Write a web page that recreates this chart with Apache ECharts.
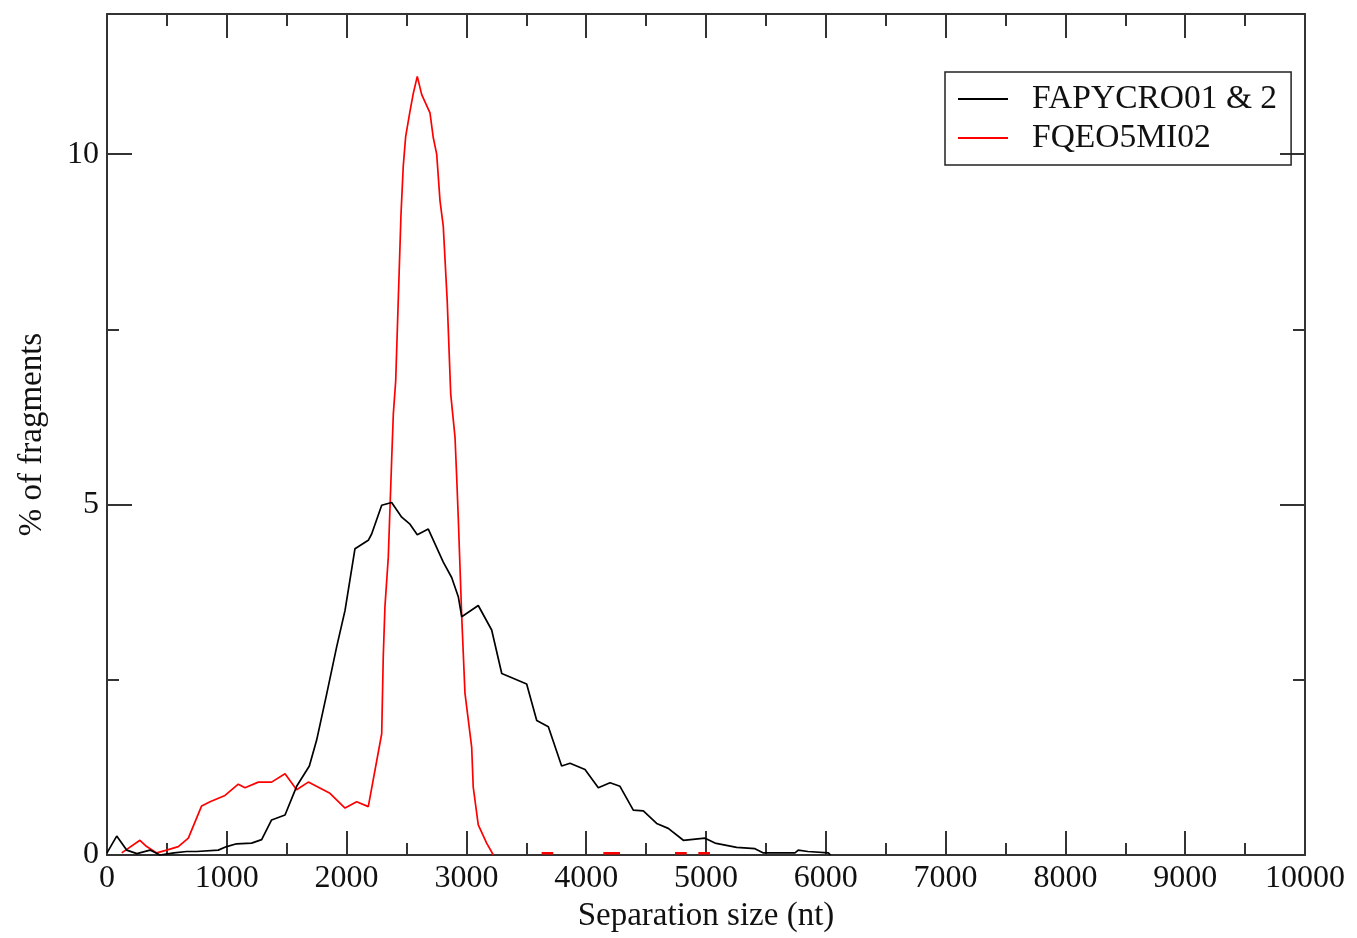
<!DOCTYPE html>
<html>
<head>
<meta charset="utf-8">
<script src="https://cdn.jsdelivr.net/npm/echarts@6/dist/echarts.min.js"></script>
<style>html,body{margin:0;padding:0;background:#fff}#c{width:1357px;height:938px}</style>
</head>
<body>
<div id="c"></div>
<script>
// x: separation size (nt), y: % of fragments
const seriesNames = ['FAPYCRO01 & 2', 'FQEO5MI02'];
const blackX = [0,81,164,250,359,442,560,665,749,929,999,1082,1207,1291,1374,1486,1583,1689,1750,1834,1917,1987,2070,2181,2209,2293,2376,2460,2529,2590,2682,2807,2877,2933,2961,3099,3211,3295,3503,3587,3684,3795,3865,3990,4101,4199,4282,4393,4477,4588,4685,4811,4992,5075,5256,5409,5479,5743,5770,5850,6021,6040];
const blackY = [0.03,0.27,0.07,0.02,0.07,0.0,0.03,0.05,0.05,0.07,0.12,0.16,0.17,0.22,0.50,0.57,0.98,1.27,1.64,2.30,2.97,3.49,4.37,4.49,4.58,4.99,5.03,4.82,4.72,4.57,4.65,4.18,3.96,3.68,3.40,3.56,3.21,2.59,2.44,1.92,1.83,1.27,1.31,1.22,0.96,1.03,0.98,0.64,0.63,0.45,0.38,0.21,0.24,0.17,0.11,0.09,0.03,0.03,0.07,0.05,0.03,0.0];
const redX = [123,275,331,415,498,595,679,790,860,985,1096,1152,1263,1374,1486,1583,1680,1861,1987,2084,2181,2293,2306,2320,2348,2376,2390,2410,2454,2473,2493,2510,2529,2557,2590,2627,2696,2724,2752,2780,2807,2840,2869,2905,2919,2932,2961,2988,3044,3057,3099,3169,3225];
const redY = [0.03,0.21,0.12,0.03,0.07,0.12,0.24,0.70,0.76,0.85,1.01,0.96,1.04,1.04,1.16,0.93,1.04,0.88,0.67,0.76,0.69,1.73,2.83,3.54,4.25,5.63,6.29,6.77,9.14,9.83,10.25,10.42,10.61,10.87,11.11,10.85,10.59,10.23,10.0,9.33,8.97,7.9,6.58,5.96,5.39,4.82,3.4,2.31,1.54,0.97,0.43,0.17,0.0];
// small red segments lying just above the zero line: [start, end]
const redTail = [[3628,3725],[4143,4282],[4741,4839],[4936,5033]];
const redTailY = 0.025;
const xTicks = [0,1000,2000,3000,4000,5000,6000,7000,8000,9000,10000];
const yMajor = [0,5,10];
const yMinor = [2.5,7.5];

const font = 'Liberation Serif';
const blackData = blackX.map((x,i)=>[x, blackY[i]]);
const redData = redX.map((x,i)=>[x, redY[i]]);
const tailData = [];
redTail.forEach(([a,b])=>{ tailData.push([a,redTailY],[b,redTailY],[b+1,'-']); });

const axisLine = {show:true, onZero:false, lineStyle:{color:'#333', width:2}};
function xAx(pos, showLabel){
  return {type:'value', position:pos, min:xTicks[0], max:xTicks[xTicks.length-1], interval:1000,
    axisLine:axisLine,
    axisTick:{show:true, inside:true, length:24, lineStyle:{color:'#333', width:2}},
    minorTick:{show:true, splitNumber:2, length:12, lineStyle:{color:'#333', width:2}},
    splitLine:{show:false}, minorSplitLine:{show:false},
    axisLabel:{show:showLabel, fontFamily:font, fontSize:32, color:'#111', margin:8,
      formatter:(v)=>String(v)},
    name: showLabel ? 'Separation size (nt)' : '', nameLocation:'middle', nameGap:44,
    nameTextStyle:{fontFamily:font, fontSize:33, color:'#111'}};
}
function yAx(pos, vals, len, showLabel, showLine){
  return {type:'value', position:pos, min:0, max:12,
    axisLine: showLine ? axisLine : {show:false, onZero:false},
    axisTick:{show:true, inside:true, length:len, customValues:vals, lineStyle:{color:'#333', width:2}},
    splitLine:{show:false},
    axisLabel:{show:showLabel, customValues:vals, fontFamily:font, fontSize:32, color:'#111', margin:8},
    name: showLabel ? '% of fragments' : '', nameLocation:'middle', nameGap:58,
    nameTextStyle:{fontFamily:font, fontSize:33, color:'#111'}};
}

const chart = echarts.init(document.getElementById('c'), null, {renderer:'canvas'});
chart.setOption({
  animation:false,
  backgroundColor:'#fff',
  grid:{left:107, right:52, top:14, bottom:83, containLabel:false},
  xAxis:[xAx('bottom', true), xAx('top', false)],
  yAxis:[yAx('left', yMajor, 25, true, true), yAx('left', yMinor, 12, false, false),
         yAx('right', yMajor, 25, false, true), yAx('right', yMinor, 12, false, false)],
  legend:{orient:'vertical', left:945, top:72, padding:[10,14,10,13],
    borderColor:'#222', borderWidth:1.5, itemGap:5, itemWidth:50, itemHeight:2, icon:'rect',
    data:seriesNames,
    textStyle:{fontFamily:font, fontSize:33.5, color:'#111', lineHeight:33, padding:[0,0,0,19]}},
  series:[
    {name:seriesNames[0], type:'line', data:blackData, showSymbol:false, symbol:'none',
     lineStyle:{color:'#000', width:1.7}, itemStyle:{color:'#000'}, z:3},
    {name:seriesNames[1], type:'line', data:redData, showSymbol:false, symbol:'none',
     lineStyle:{color:'#ff0000', width:1.7}, itemStyle:{color:'#ff0000'}, z:2},
    {name:seriesNames[1], type:'line', data:tailData, showSymbol:false, symbol:'none', connectNulls:false,
     lineStyle:{color:'#ff0000', width:2.5}, itemStyle:{color:'#ff0000'}, z:4}
  ]
});
</script>
</body>
</html>
